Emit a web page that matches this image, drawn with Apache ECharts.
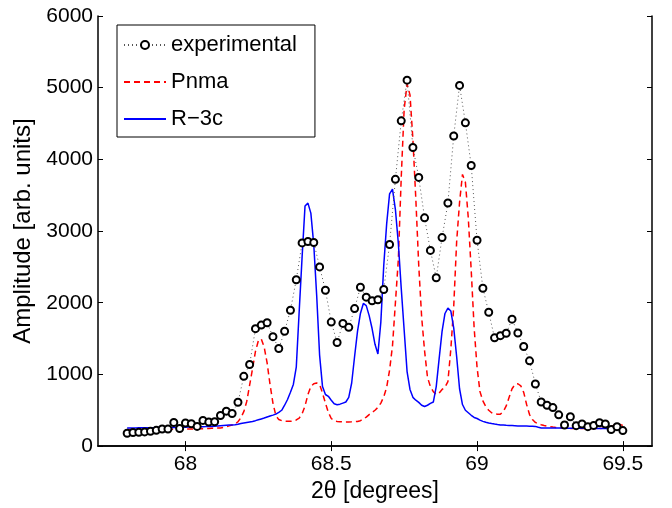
<!DOCTYPE html>
<html>
<head>
<meta charset="utf-8">
<script src="https://cdn.jsdelivr.net/npm/echarts@6/dist/echarts.min.js"></script>
<style>
  html, body { margin: 0; padding: 0; background: #fff; }
  #chart { width: 672px; height: 508px; }
</style>
</head>
<body>
<div id="chart"></div>
<script>
// experimental points, 67.80 .. 69.50 every 0.02 deg
const expStart = 67.80
const expStep = 0.02
const experimental = [
  179, 189, 193, 198, 206, 220, 239, 239, 330, 244,
  322, 312, 275, 358, 336, 340, 427, 487, 454, 611,
  973, 1138, 1638, 1688, 1720, 1527, 1362, 1602, 1895, 2321,
  2835, 2854, 2840, 2500, 2174, 1730, 1445, 1712, 1657, 1918,
  2216, 2078, 2028, 2042, 2184, 2813, 3721, 4537, 5105, 4165,
  3748, 3184, 2730, 2349, 2909, 3391, 4326, 5032, 4510, 3914,
  2872, 2202, 1867, 1510, 1541, 1574, 1771, 1578, 1390, 1189,
  867, 615, 570, 537, 436, 294, 409, 285, 308, 271,
  289, 326, 308, 230, 271, 216
]

// calculated profiles, 67.80 .. 69.50 every 0.01 deg
const calcStart = 67.80
const calcStep = 0.01
const pnma = [
  230, 230, 230, 231, 231, 231, 232, 232, 232, 233,
  233, 233, 234, 234, 234, 235, 235, 235, 236, 236,
  237, 237, 238, 239, 240, 241, 242, 244, 246, 248,
  250, 252, 254, 260, 270, 282, 295, 308, 340, 395,
  480, 620, 850, 1080, 1320, 1470, 1495, 1380, 1160, 860,
  600, 425, 370, 355, 348, 345, 345, 350, 365, 390,
  450, 560, 720, 830, 870, 880, 860, 740, 600, 470,
  385, 355, 344, 340, 337, 336, 337, 338, 340, 344,
  355, 375, 405, 440, 470, 500, 540, 600, 688, 820,
  1060, 1400, 2000, 2600, 3750, 4700, 5050, 4900, 4280, 3450,
  2520, 1800, 1330, 960, 830, 760, 720, 740, 790, 820,
  900, 1350, 1950, 2850, 3400, 3790, 3680, 3180, 2450, 1650,
  1100, 760, 630, 550, 500, 465, 450, 445, 446, 480,
  560, 680, 800, 860, 870, 840, 750, 580, 440, 370,
  330, 310, 298, 288, 280, 272, 265, 260, 256, 253,
  250, 248, 247, 246, 245, 244, 244, 244, 244, 244,
  244, 244, 244, 248, 255, 265, 275, 290, 305, 300,
  289
]
const r3c = [
  253, 253, 254, 254, 255, 255, 256, 256, 257, 257,
  258, 258, 259, 259, 260, 260, 261, 261, 262, 263,
  264, 265, 266, 267, 268, 270, 271, 272, 274, 275,
  278, 281, 284, 287, 290, 293, 296, 299, 306, 314,
  322, 330, 337, 344, 355, 367, 379, 391, 405, 419,
  432, 446, 470, 500, 570, 650, 750, 860, 1100, 1880,
  2640, 3350, 3390, 3250, 2810, 2100, 1270, 830, 720, 695,
  640, 590, 578, 585, 600, 615, 680, 880, 1250, 1600,
  1850, 1990, 1960, 1820, 1640, 1420, 1285, 1730, 2520, 3100,
  3520, 3585, 3300, 2830, 2200, 1620, 1040, 790, 680, 640,
  610, 570, 552, 570, 595, 615, 830, 1220, 1600, 1850,
  1925, 1885, 1650, 1250, 800, 580, 500, 465, 430, 400,
  385, 362, 345, 332, 322, 314, 307, 301, 296, 293,
  290, 288, 286, 284, 282, 281, 280, 279, 278, 277,
  275, 262, 253, 253, 253, 252, 252, 252, 251, 251,
  251, 250, 250, 250, 249, 249, 249, 248, 248, 248,
  247, 247, 247, 246, 246, 246, 245, 245, 245, 244,
  244
]

const xTicks = [68, 68.5, 69, 69.5]
const seriesNames = ['experimental', 'Pnma', 'R\u22123c']

function pairs(start, step, values) {
  return values.map((v, i) => [+(start + step * i).toFixed(2), v])
}

const font = 'Liberation Sans, Arial, Helvetica, sans-serif'

const chart = echarts.init(document.getElementById('chart'))

const boxAxis = {
  axisLine: { show: true, lineStyle: { color: '#000', width: 1.5 } },
  splitLine: { show: false }
}

chart.setOption({
  animation: false,
  textStyle: { fontFamily: font },
  grid: { left: 98, right: 20, top: 16, bottom: 56 },
  legend: {
    orient: 'vertical',
    left: 117,
    top: 25,
    data: [
      { name: seriesNames[0] },
      { name: seriesNames[1], itemStyle: { opacity: 0 } },
      { name: seriesNames[2], itemStyle: { opacity: 0 } }
    ],
    backgroundColor: '#fff',
    borderColor: '#000',
    borderWidth: 1,
    padding: [9, 18, 7, 6],
    itemGap: 15,
    itemWidth: 42,
    itemHeight: 10,
    textStyle: { fontSize: 22, color: '#000', fontFamily: font }
  },
  xAxis: [
    Object.assign({
      type: 'value',
      min: 67.7,
      max: 69.6,
      position: 'bottom',
      name: '2\u03b8 [degrees]',
      nameLocation: 'middle',
      nameGap: 28,
      nameTextStyle: { fontSize: 23, color: '#000' },
      axisTick: { inside: true, length: 5, customValues: xTicks, lineStyle: { color: '#000' } },
      axisLabel: { customValues: xTicks, fontSize: 21, color: '#000', margin: 8 }
    }, boxAxis),
    Object.assign({
      type: 'value',
      min: 67.7,
      max: 69.6,
      position: 'top',
      axisTick: { inside: true, length: 5, customValues: xTicks, lineStyle: { color: '#000' } },
      axisLabel: { show: false }
    }, boxAxis)
  ],
  yAxis: [
    Object.assign({
      type: 'value',
      min: 0,
      max: 6000,
      interval: 1000,
      position: 'left',
      name: 'Amplitude [arb. units]',
      nameLocation: 'middle',
      nameGap: 62,
      nameTextStyle: { fontSize: 24, color: '#000' },
      axisTick: { inside: true, length: 5, lineStyle: { color: '#000' } },
      axisLabel: { fontSize: 21, color: '#000', margin: 5, formatter: v => String(v) }
    }, boxAxis),
    Object.assign({
      type: 'value',
      min: 0,
      max: 6000,
      interval: 1000,
      position: 'right',
      axisTick: { inside: true, length: 5, lineStyle: { color: '#000' } },
      axisLabel: { show: false }
    }, boxAxis)
  ],
  series: [
    {
      name: seriesNames[0],
      type: 'line',
      data: pairs(expStart, expStep, experimental),
      symbol: 'emptyCircle',
      symbolSize: 7,
      showSymbol: true,
      itemStyle: { color: '#000', borderColor: '#000', borderWidth: 1.5 },
      lineStyle: { color: '#555', width: 1, type: [1, 3] },
      z: 4
    },
    {
      name: seriesNames[1],
      type: 'line',
      data: pairs(calcStart, calcStep, pnma),
      symbol: 'none',
      itemStyle: { color: '#ff0000' },
      lineStyle: { color: '#ff0000', width: 1.5, type: [6, 4] },
      z: 3
    },
    {
      name: seriesNames[2],
      type: 'line',
      data: pairs(calcStart, calcStep, r3c),
      symbol: 'none',
      itemStyle: { color: '#0000ff' },
      lineStyle: { color: '#0000ff', width: 1.5 },
      z: 3
    }
  ]
})
</script>
</body>
</html>
